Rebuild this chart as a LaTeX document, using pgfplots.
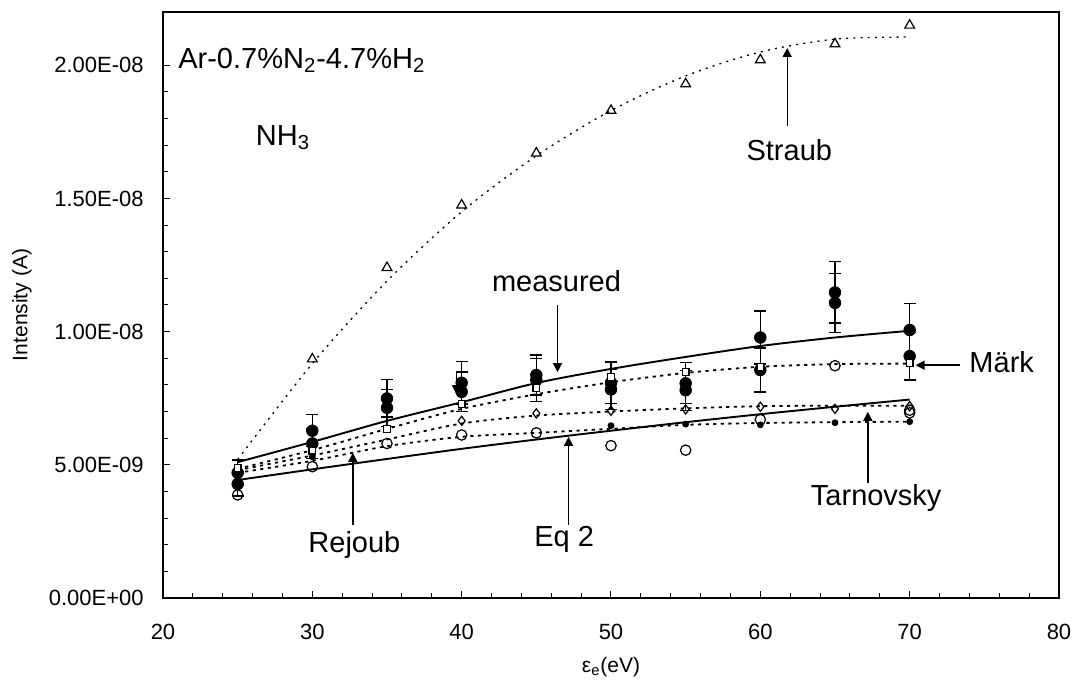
\documentclass[border=0pt]{standalone}
\usepackage{fontspec}
\setmainfont{Liberation Sans}
\usepackage{pgfplots}
\pgfplotsset{compat=1.18}
\usetikzlibrary{arrows.meta}
\begin{document}
\begin{tikzpicture}[font=\fontsize{11}{13}\selectfont]
\begin{axis}[
  scale only axis, width=448pt, height=293pt,
  xmin=20, xmax=80, ymin=0, ymax=2.2e-8,
  xtick={20,30,40,50,60,70,80}, minor x tick num=4,
  ytick={0,5e-9,1e-8,1.5e-8,2e-8},
  yticklabels={0.00E+00,5.00E-09,1.00E-08,1.50E-08,2.00E-08},
  minor y tick num=4,
  scaled y ticks=false, scaled x ticks=false,
  tick align=inside, xtick pos=bottom, ytick pos=left,
  major tick length=3.5pt, minor tick length=2.5pt,
  axis line style={line width=0.6pt},
  every tick/.style={black, line width=0.5pt},
  /pgf/number format/assume math mode=true,
  xticklabel style={anchor=center, yshift=-17pt, inner sep=0pt},
  yticklabel style={anchor=east, xshift=-9.5pt, inner sep=0pt},
  xlabel={ε\textsubscript{e}(eV)},
  ylabel={Intensity (A)},
  label style={font=\fontsize{10.5}{12}\selectfont},
  xlabel style={at={(axis description cs:0.5,-0.1177)}, anchor=center},
  ylabel style={at={(axis description cs:-0.1574,0.5)}, anchor=center},
  clip=false,
]
% Straub fit
\addplot[black, line width=0.65pt, dash pattern=on 1pt off 2.6pt, smooth] coordinates {
(25,5.2e-9) (30,8.8e-9) (35,11.9e-9) (40,14.5e-9) (45,16.6e-9) (50,18.3e-9)
(55,19.6e-9) (60,20.5e-9) (65,20.98e-9) (70,21.06e-9)};
% Straub data
\addplot[only marks, mark=triangle, mark size=2.8pt, mark options={black, line width=0.6pt, fill=white}] coordinates {
(30,8.97e-9) (35,12.4e-9) (40,14.75e-9) (45,16.7e-9) (50,18.3e-9)
(55,19.3e-9) (60,20.2e-9) (65,20.8e-9) (70,21.5e-9)};
% Mark fit
\addplot[black, line width=0.9pt, dash pattern=on 1.6pt off 2.2pt, smooth] coordinates {
(25,4.85e-9) (30,5.55e-9) (35,6.35e-9) (40,7.1e-9) (45,7.65e-9) (50,8.1e-9)
(55,8.45e-9) (60,8.68e-9) (65,8.78e-9) (70,8.8e-9)};
% diamond fit
\addplot[black, line width=0.9pt, dash pattern=on 1.6pt off 2.2pt, smooth] coordinates {
(25,4.8e-9) (30,5.35e-9) (35,5.95e-9) (40,6.55e-9) (45,6.85e-9) (50,7.0e-9)
(55,7.12e-9) (60,7.2e-9) (65,7.22e-9) (70,7.22e-9)};
% lower dotted fit
\addplot[black, line width=0.9pt, dash pattern=on 1.6pt off 2.2pt, smooth] coordinates {
(25,4.7e-9) (30,5.15e-9) (35,5.7e-9) (40,6.05e-9) (45,6.2e-9) (50,6.35e-9)
(55,6.5e-9) (60,6.57e-9) (65,6.6e-9) (70,6.62e-9)};
% measured fit
\addplot[black, line width=0.95pt, smooth] coordinates {
(25,5.1e-9) (30,5.86e-9) (35,6.65e-9) (40,7.35e-9) (45,8.07e-9) (50,8.6e-9)
(55,9.05e-9) (60,9.46e-9) (65,9.78e-9) (70,10.03e-9)};
% Eq 2
\addplot[black, line width=0.95pt, smooth] coordinates {
(25,4.43e-9) (30,4.83e-9) (35,5.22e-9) (40,5.6e-9) (45,5.95e-9) (50,6.28e-9)
(55,6.6e-9) (60,6.9e-9) (65,7.18e-9) (70,7.45e-9)};
% open circles
\addplot[only marks, mark=o, mark size=2.6pt, mark options={black, line width=0.6pt, fill=white}] coordinates {
(25,3.87e-9) (30,4.93e-9) (35,5.8e-9) (40,6.12e-9) (45,6.2e-9) (50,5.72e-9)
(55,5.55e-9) (60,6.7e-9) (65,8.72e-9) (70,6.95e-9) (70,7.05e-9)};
% diamonds
\addplot[only marks, mark=diamond, mark size=2.3pt, mark options={black, line width=0.6pt, fill=white}] coordinates {
(25,4.8e-9) (30,5.8e-9) (40,6.65e-9) (45,6.93e-9) (50,7.03e-9)
(55,7.08e-9) (60,7.18e-9) (65,7.1e-9) (70,7.2e-9)};
% small filled dots
\addplot[only marks, mark=*, mark size=1.5pt, mark options={black}] coordinates {
(25,4.75e-9) (30,5.3e-9) (50,6.47e-9) (55,6.53e-9) (60,6.5e-9) (65,6.58e-9) (70,6.62e-9)};
% measured A
\addplot[only marks, mark=*, mark size=2.9pt, mark options={black},
  error bars/.cd, y dir=both, y explicit,
  error bar style={black, line width=0.65pt},
  error mark options={rotate=90, mark size=3pt, line width=0.65pt, black}] coordinates {
(25,4.7e-9) +- (0,0.48e-9)
(30,6.28e-9) +- (0,0.6e-9)
(35,7.49e-9) +- (0,0.7e-9)
(40,8.08e-9) +- (0,0.8e-9)
(45,8.37e-9) +- (0,0.75e-9)
(50,8.08e-9) +- (0,0.78e-9)
(55,8.06e-9) +- (0,0.77e-9)
(60,9.78e-9) +- (0,1.0e-9)
(65,11.47e-9) +- (0,1.15e-9)
(70,10.06e-9) +- (0,1.0e-9)};
% measured B
\addplot[only marks, mark=*, mark size=2.9pt, mark options={black},
  error bars/.cd, y dir=both, y explicit,
  error bar style={black, line width=0.65pt},
  error mark options={rotate=90, mark size=3pt, line width=0.65pt, black}] coordinates {
(25,4.28e-9) +- (0,0.45e-9)
(30,5.8e-9) +- (0,0.55e-9)
(35,7.14e-9) +- (0,0.7e-9)
(40,7.74e-9) +- (0,0.75e-9)
(45,8.18e-9) +- (0,0.8e-9)
(50,7.83e-9) +- (0,0.75e-9)
(55,7.8e-9) +- (0,0.75e-9)
(60,8.56e-9) +- (0,0.83e-9)
(65,11.08e-9) +- (0,1.1e-9)
(70,9.08e-9) +- (0,0.9e-9)};
% squares (Mark data)
\addplot[only marks, mark=square*, mark size=1.7pt, mark options={black, fill=white, line width=0.6pt}] coordinates {
(25,4.88e-9) (30,5.53e-9) (35,6.34e-9) (40,7.28e-9) (45,7.88e-9) (50,8.3e-9)
(55,8.48e-9) (60,8.68e-9) (70,8.82e-9)};
% annotations
\begin{scope}[font=\fontsize{14.5}{17}\selectfont]
\node[anchor=base west, inner sep=0pt] at (axis cs:21.0,1.989e-8) {Ar-0.7\%N\textsubscript{2}-4.7\%H\textsubscript{2}};
\node[anchor=base west, inner sep=0pt] at (axis cs:26.2,1.70e-8) {NH\textsubscript{3}};
\node[anchor=base, inner sep=0pt] at (axis cs:46.35,1.149e-8) {measured};
\node[anchor=base, inner sep=0pt] at (axis cs:61.94,1.644e-8) {Straub};
\node[anchor=base west, inner sep=0pt] at (axis cs:73.98,0.848e-8) {Märk};
\node[anchor=base, inner sep=0pt] at (axis cs:67.76,0.349e-8) {Tarnovsky};
\node[anchor=base, inner sep=0pt] at (axis cs:46.86,0.193e-8) {Eq 2};
\node[anchor=base, inner sep=0pt] at (axis cs:32.82,0.169e-8) {Rejoub};
\end{scope}
\begin{scope}[line width=0.7pt, -{Triangle[length=4.5pt,width=4.5pt]}]
\draw (axis cs:46.42,1.099e-8) -- (axis cs:46.42,0.848e-8);
\draw (axis cs:61.8,1.771e-8) -- (axis cs:61.8,2.065e-8);
\draw (axis cs:73.35,0.874e-8) -- (axis cs:70.4,0.874e-8);
\draw (axis cs:67.2,0.432e-8) -- (axis cs:67.2,0.699e-8);
\draw (axis cs:47.16,0.274e-8) -- (axis cs:47.16,0.605e-8);
\draw (axis cs:32.71,0.274e-8) -- (axis cs:32.71,0.545e-8);
\draw (axis cs:39.65,0.845e-8) -- (axis cs:39.65,0.765e-8);
\end{scope}
\end{axis}
\pgfresetboundingbox
\path (-81.5pt,-46pt) rectangle (457pt,299pt);
\end{tikzpicture}
\end{document}
